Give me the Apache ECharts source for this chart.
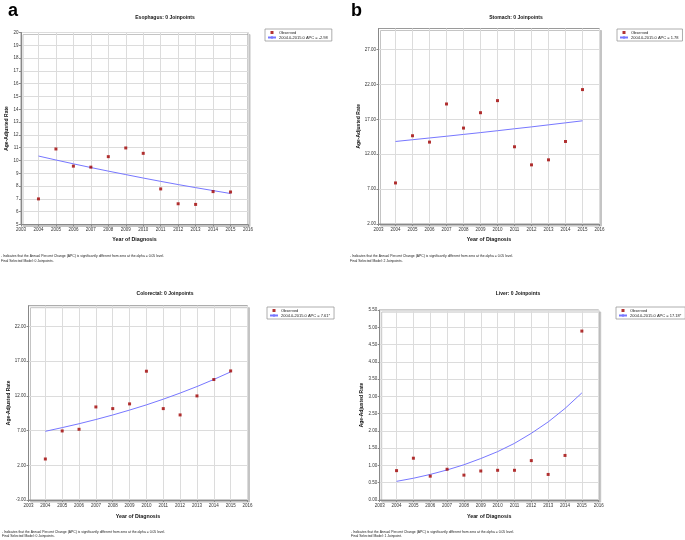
<!DOCTYPE html>
<html><head><meta charset="utf-8">
<script src="https://cdn.jsdelivr.net/npm/echarts@6/dist/echarts.min.js"></script>
<style>html,body{margin:0;padding:0;background:#fff}#c{width:685px;height:540px}</style>
</head><body><div id="c"></div><script>
const years = [2004, 2005, 2006, 2007, 2008, 2009, 2010, 2011, 2012, 2013, 2014, 2015];
const esophagusObserved = [7.0, 10.9, 9.56, 9.48, 10.3, 10.98, 10.56, 7.78, 6.62, 6.57, 7.57, 7.54];
const esophagusFit = [10.35, 10.04, 9.74, 9.45, 9.17, 8.90, 8.63, 8.37, 8.12, 7.88, 7.65, 7.42];
const stomachObserved = [7.88, 14.64, 13.73, 19.19, 15.74, 17.94, 19.67, 13.06, 10.47, 11.19, 13.82, 21.25];
const stomachFit = [13.82, 14.07, 14.32, 14.57, 14.83, 15.09, 15.36, 15.64, 15.91, 16.20, 16.49, 16.78];
const colorectalObserved = [2.91, 6.95, 7.19, 10.41, 10.17, 10.85, 15.56, 10.17, 9.26, 12.0, 14.36, 15.6];
const colorectalFit = [6.90, 7.43, 7.99, 8.60, 9.25, 9.96, 10.71, 11.53, 12.41, 13.35, 14.37, 15.46];
const liverObserved = [0.85, 1.21, 0.69, 0.89, 0.72, 0.84, 0.86, 0.86, 1.14, 0.74, 1.29, 4.89];
const liverFit = [0.54, 0.63, 0.74, 0.87, 1.02, 1.20, 1.40, 1.64, 1.93, 2.26, 2.65, 3.10];

const xMin = 2003, xMax = 2016, xStep = 1;
const panelLetters = ['a', 'b', 'c', 'd'];
const panelTitles = ['Esophagus: 0 Joinpoints', 'Stomach: 0 Joinpoints', 'Colorectal: 0 Joinpoints', 'Liver: 0 Joinpoints'];
const observedLabel = 'Observed';
const fitLabels = ['2004.0-2015.0 APC = -2.98', '2004.0-2015.0 APC = 1.78', '2004.0-2015.0 APC = 7.61*', '2004.0-2015.0 APC = 17.18*'];
const yTicksA = [5, 6, 7, 8, 9, 10, 11, 12, 13, 14, 15, 16, 17, 18, 19, 20];
const yTicksB = [2, 7, 12, 17, 22, 27];
const yTicksC = [-3, 2, 7, 12, 17, 22];
const yTicksD = [0, 0.5, 1, 1.5, 2, 2.5, 3, 3.5, 4, 4.5, 5, 5.5];
const yRanges = [[5, 20], [2, 30], [-3, 25], [0, 5.5]];
const yDecimals = [0, 2, 2, 2];
const xAxisName = 'Year of Diagnosis';
const yAxisName = 'Age-Adjusted Rate';
const footnote1 = ' Indicates that the Annual Percent Change (APC) is significantly different from zero at the alpha = 0.05 level.';
const footnote2 = ['Final Selected Model: 0 Joinpoints.', 'Final Selected Model: 2 Joinpoints.', 'Final Selected Model: 0 Joinpoints.', 'Final Selected Model: 1 Joinpoint.'];

const observedSets = [esophagusObserved, stomachObserved, colorectalObserved, liverObserved];
const fitSets = [esophagusFit, stomachFit, colorectalFit, liverFit];
const yTickSets = [yTicksA, yTicksB, yTicksC, yTicksD];

// layout (pixels)
const L = [
  {grid: {left: 21, top: 32.5, width: 227, height: 192}, ox: 0, oy: 0, yGap: 8, xGap: 12.5, titleX: 165, titleY: 17.5, legend: {left: 265, top: 29}, footX: 1, footY: 256.5},
  {grid: {left: 378.5, top: 28.5, width: 221, height: 195.5}, ox: 343, oy: 0, yGap: 16.5, xGap: 13, titleX: 516, titleY: 17.5, legend: {left: 617, top: 29}, footX: 350, footY: 256.5},
  {grid: {left: 28.5, top: 305.7, width: 219, height: 194.3}, ox: 0, oy: 270, yGap: 16, xGap: 14, titleX: 165, titleY: 294, legend: {left: 267, top: 307}, footX: 2, footY: 532},
  {grid: {left: 379.7, top: 310, width: 219, height: 190}, ox: 343, oy: 270, yGap: 15, xGap: 14, titleX: 518, titleY: 294, legend: {left: 616, top: 307}, footX: 351, footY: 532}
];

const FONT = '"Liberation Sans", Arial, sans-serif';
const grids = [], xAxes = [], yAxes = [], series = [], legends = [], graphics = [];

for (let i = 0; i < 4; i++) {
  const l = L[i];
  grids.push(Object.assign({
    show: true, backgroundColor: '#fff', borderColor: '#9a9a9a', borderWidth: 1,
    shadowColor: '#c4c4c4', shadowOffsetX: 2, shadowOffsetY: 2, shadowBlur: 0
  }, l.grid));
  xAxes.push({
    type: 'value', gridIndex: i, min: xMin, max: xMax, interval: xStep,
    name: xAxisName, nameLocation: 'middle', nameGap: l.xGap,
    nameTextStyle: {fontFamily: FONT, fontWeight: 'bold', fontSize: 5.3, color: '#111'},
    axisLine: {show: true, onZero: false, lineStyle: {color: '#888', width: 1}},
    axisTick: {show: true, length: 2, lineStyle: {color: '#888'}},
    axisLabel: {fontFamily: FONT, fontSize: 4.5, color: '#333', margin: 3, formatter: v => String(v)},
    splitLine: {show: true, lineStyle: {color: '#dcdcdc', width: 1}}
  });
  const dec = yDecimals[i];
  yAxes.push({
    type: 'value', gridIndex: i, min: yRanges[i][0], max: yRanges[i][1],
    name: yAxisName, nameLocation: 'middle', nameGap: l.yGap,
    nameTextStyle: {fontFamily: FONT, fontWeight: 'bold', fontSize: 5, color: '#111'},
    axisLine: {show: true, onZero: false, lineStyle: {color: '#888', width: 1}},
    axisTick: {show: true, length: 2, lineStyle: {color: '#888'}, customValues: yTickSets[i]},
    axisLabel: {fontFamily: FONT, fontSize: 4.5, color: '#333', margin: 2.5, customValues: yTickSets[i], formatter: v => v.toFixed(dec)},
    splitLine: {show: true, lineStyle: {color: '#dcdcdc', width: 1}}
  });
  series.push({
    name: fitLabels[i], type: 'line', xAxisIndex: i, yAxisIndex: i,
    data: years.map((y, k) => [y, fitSets[i][k]]),
    symbol: 'none', lineStyle: {color: '#7777ff', width: 1}, itemStyle: {color: '#7777ff'},
    silent: true, animation: false, z: 3
  });
  series.push({
    name: observedLabel, type: 'scatter', xAxisIndex: i, yAxisIndex: i,
    data: years.map((y, k) => [y, observedSets[i][k]]),
    symbol: 'rect', symbolSize: 3, itemStyle: {color: '#a00000'},
    silent: true, animation: false, z: 4
  });
  legends.push({
    left: l.legend.left, top: l.legend.top, orient: 'vertical',
    data: [{name: observedLabel, icon: 'path://M0,0h10v10h-10z'}, {name: fitLabels[i]}],
    itemWidth: 8, itemHeight: 3, itemGap: 1, padding: [1.5, 4, 1.5, 2],
    borderColor: '#999', borderWidth: 0.8, backgroundColor: '#fff',
    textStyle: {fontFamily: FONT, fontSize: 4, color: '#222', padding: [0, 0, 0, -2]},
    selectedMode: false
  });
  graphics.push({
    type: 'text', x: l.ox + 8, y: l.oy + (i < 2 ? 2 : 279.5),
    style: {text: panelLetters[i], fontFamily: FONT, fontWeight: 'bold', fontSize: 18, fill: '#000', verticalAlign: 'top'}
  });
  graphics.push({
    type: 'text', x: l.titleX, y: l.titleY,
    style: {text: panelTitles[i], fontFamily: FONT, fontWeight: 'bold', fontSize: 5, fill: '#111', align: 'center', verticalAlign: 'middle'}
  });
  graphics.push({
    type: 'text', x: l.footX, y: l.footY,
    style: {text: '{s|*}' + footnote1, fontFamily: FONT, fontSize: 3.4, fill: '#222', verticalAlign: 'middle',
      rich: {s: {fontSize: 2.5, verticalAlign: 'top', fontFamily: FONT, fill: '#222'}}}
  });
  graphics.push({
    type: 'text', x: l.footX, y: l.footY + 4.5,
    style: {text: footnote2[i], fontFamily: FONT, fontSize: 3.4, fill: '#222', verticalAlign: 'middle'}
  });
}

const chart = echarts.init(document.getElementById('c'), null, {renderer: 'canvas'});
chart.setOption({
  backgroundColor: '#fff', animation: false,
  grid: grids, xAxis: xAxes, yAxis: yAxes, series: series, legend: legends, graphic: graphics
});
</script></body></html>
